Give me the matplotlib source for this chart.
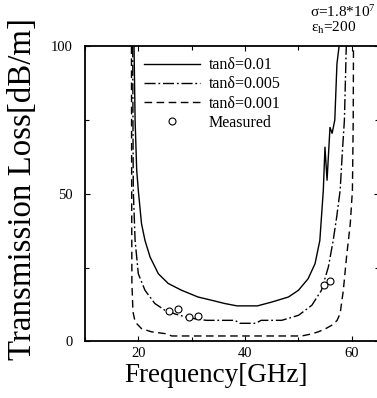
import matplotlib
matplotlib.use("Agg")
import matplotlib.pyplot as plt
from matplotlib.ticker import MultipleLocator

plt.rcParams['font.family'] = ['Liberation Serif', 'DejaVu Serif']
plt.rcParams['mathtext.fontset'] = 'custom'
plt.rcParams['mathtext.rm'] = 'Liberation Serif'
plt.rcParams['mathtext.default'] = 'regular'

# tan(delta) = 0.01 (solid)
f_001 = [19.2, 19.4, 19.7, 20.0, 20.6, 21.25, 22.2, 23.75, 25.6, 28.1, 31.2, 33.75,
         36.2, 38.5, 42.3, 45.0, 48.1, 50.0, 51.8, 53.1, 54.0, 54.3, 54.65, 54.96,
         55.35, 55.9, 56.3, 56.8, 57.2, 57.6]
v_001 = [100, 75, 58, 51.2, 39.9, 34.2, 28.6, 22.9, 19.6, 17.3, 15.0, 13.9,
         12.8, 12.0, 12.0, 13.3, 15.0, 17.3, 21.2, 26.3, 34.2, 42.1, 51.2, 65.8,
         54.6, 72.5, 70.5, 75, 94, 100]

# tan(delta) = 0.005 (dash-dot)
f_0005 = [18.95, 19.0, 19.06, 19.4, 20.0, 21.25, 23.1, 25.0, 27.0, 29.0, 31.0, 32.8,
          38.1, 39.0, 42.0, 43.0, 46.85, 50.0, 52.5, 54.3, 55.6, 56.5, 57.15, 57.8,
          58.2, 58.6, 58.95]
v_0005 = [100, 75, 51.2, 34.2, 22.9, 17.3, 12.8, 10.5, 9.2, 8.2, 7.5, 7.1,
          7.1, 6.1, 6.1, 7.1, 7.1, 8.8, 12.2, 17.3, 25.2, 34.2, 42.1, 51.2,
          63.7, 75, 100]

# tan(delta) = 0.001 (dashed)
f_0001 = [18.72, 18.76, 18.8, 19.0, 19.3, 19.7, 20.6, 22.5, 25.0, 25.6, 26.25, 40.0,
          50.6, 52.2, 53.7, 55.0, 56.2, 57.2, 57.8, 58.4, 59.0, 59.7, 60.1, 60.25, 60.3]
v_0001 = [100, 50, 20, 10, 7.5, 6.0, 4.3, 3.2, 2.6, 2.3, 1.8, 1.8,
          1.8, 2.4, 3.2, 4.2, 5.4, 7.0, 9.4, 17.3, 28.6, 39.9, 51.2, 75, 100]

# measured
f_meas = [25.75, 27.5, 29.5, 31.2, 54.8, 55.9]
v_meas = [10.2, 11.0, 8.2, 8.5, 19.0, 20.4]

labels = ['tanδ=0.01', 'tanδ=0.005', 'tanδ=0.001', 'Measured']

fig = plt.figure(figsize=(3.77, 3.98), dpi=100)
ax = fig.add_axes([0.2252, 0.1425, 0.779, 0.7412])

lw = 1.0
ax.plot(f_001, v_001, color='black', lw=lw, ls='-', label=labels[0])
ax.plot(f_0005, v_0005, color='black', lw=lw, dashes=(8, 2, 1.3, 2), label=labels[1])
ax.plot(f_0001, v_0001, color='black', lw=lw, dashes=(5.5, 3.2), label=labels[2])
ax.plot(f_meas, v_meas, ls='none', marker='o', ms=5, mfc='white', mec='black',
        mew=0.8, label=labels[3])

ax.set_xlim(10, 65)
ax.set_ylim(0, 100)
ax.xaxis.set_major_locator(MultipleLocator(20))
ax.xaxis.set_minor_locator(MultipleLocator(10))
ax.yaxis.set_major_locator(MultipleLocator(50))
ax.yaxis.set_minor_locator(MultipleLocator(25))
ax.tick_params(which='both', direction='in', top=True, right=True, width=0.8)
ax.tick_params(which='major', length=3.5, labelsize=10.5)
ax.tick_params(axis='x', which='major', pad=4)
ax.tick_params(axis='y', which='major', pad=9)
ax.tick_params(which='minor', length=3)
for s in ax.spines.values():
    s.set_linewidth(1.3)

ax.set_xlabel('Frequency[GHz]', fontsize=19.5, labelpad=4)
ax.xaxis.set_label_coords(0.446, -0.075, transform=ax.transAxes)
ax.xaxis.label.set_va('top')
ax.set_ylabel('Transmission Loss[dB/m]', fontsize=23.7, labelpad=13)
ax.yaxis.set_label_coords(-0.161, 0.516, transform=ax.transAxes)
ax.yaxis.label.set_va('bottom')

leg = ax.legend(loc='upper left', bbox_to_anchor=(0.201, 0.963), frameon=False,
                fontsize=11.5, handlelength=3.5, handletextpad=0.55,
                labelspacing=0.2, borderpad=0, borderaxespad=0)

fig.text(0.822, 0.957, r'σ=1.8*$10^{7}$', fontsize=11, ha='left', va='baseline')
fig.text(0.825, 0.921, r'ε$_{h}$=200', fontsize=11, ha='left', va='baseline')

fig.savefig('out.png', dpi=100)
